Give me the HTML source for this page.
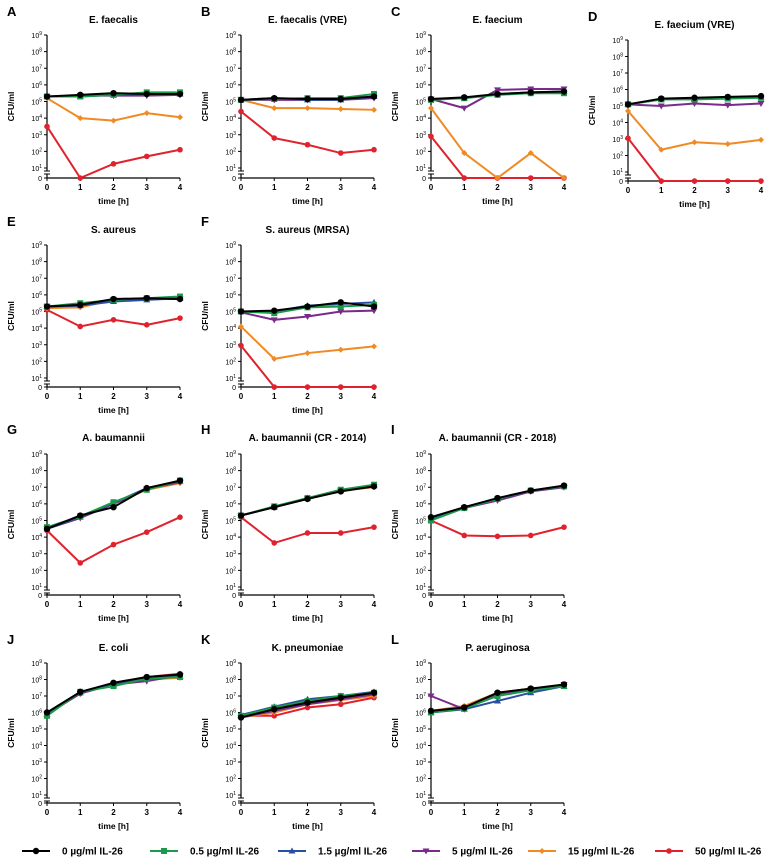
<!DOCTYPE html>
<html><head><meta charset="utf-8">
<style>
html,body{margin:0;padding:0;background:#fff;}
svg{display:block;font-family:"Liberation Sans",Arial,sans-serif;}
</style></head>
<body>
<svg id="fig" width="767" height="860" viewBox="0 0 767 860"></svg>
<script>
const timepoints = [0,1,2,3,4];
const seriesNames = ["0 µg/ml IL-26","0.5 µg/ml IL-26","1.5 µg/ml IL-26","5 µg/ml IL-26","15 µg/ml IL-26","50 µg/ml IL-26"];
const seriesColors = ["#000000","#1a9a4a","#2a4fa0","#7a2a8a","#f08a24","#e0222e"];
const panelLetters = ["A","B","C","D","E","F","G","H","I","J","K","L"];
const panelTitles = ["E. faecalis","E. faecalis (VRE)","E. faecium","E. faecium (VRE)","S. aureus","S. aureus (MRSA)","A. baumannii","A. baumannii (CR - 2014)","A. baumannii (CR - 2018)","E. coli","K. pneumoniae","P. aeruginosa"];
const yTickExps = [1,2,3,4,5,6,7,8,9];
// log10 CFU/ml per series (order: 0, 0.5, 1.5, 5, 15, 50 µg/ml); 0 means "0" baseline
const dataA = [[5.3,5.4,5.5,5.45,5.45],[5.3,5.3,5.4,5.55,5.55],[5.3,5.3,5.4,5.45,5.45],[5.3,5.35,5.35,5.35,5.4],[5.2,4.0,3.85,4.3,4.05],[3.5,0,1.25,1.7,2.1]];
const dataB = [[5.1,5.2,5.15,5.15,5.3],[5.1,5.15,5.2,5.2,5.45],[5.1,5.2,5.1,5.1,5.3],[5.1,5.1,5.1,5.1,5.2],[5.1,4.6,4.6,4.55,4.5],[4.4,2.8,2.4,1.9,2.1]];
const dataC = [[5.15,5.25,5.45,5.55,5.6],[5.1,5.2,5.4,5.5,5.5],[5.15,5.2,5.45,5.55,5.6],[5.15,4.6,5.7,5.75,5.75],[4.6,1.9,0,1.9,0],[2.9,0,0,0,0]];
const dataD = [[5.1,5.45,5.5,5.55,5.6],[5.1,5.4,5.4,5.45,5.5],[5.1,5.4,5.45,5.5,5.55],[5.1,5.0,5.15,5.05,5.15],[4.7,2.35,2.8,2.7,2.95],[3.05,0,0,0,0]];
const dataE = [[5.3,5.4,5.75,5.8,5.75],[5.3,5.5,5.7,5.8,5.9],[5.3,5.35,5.6,5.7,5.8],[5.3,5.35,5.7,5.75,5.75],[5.2,5.25,5.7,5.8,5.75],[5.1,4.1,4.5,4.2,4.6]];
const dataF = [[5.0,5.05,5.3,5.55,5.3],[5.0,4.9,5.25,5.3,5.4],[5.0,5.0,5.35,5.45,5.55],[4.95,4.5,4.7,5.0,5.05],[4.1,2.15,2.5,2.7,2.9],[2.95,0,0,0,0]];
const dataG = [[4.5,5.3,5.8,6.95,7.4],[4.6,5.25,6.1,6.85,7.4],[4.5,5.2,6.05,6.95,7.35],[4.5,5.15,6.0,6.9,7.3],[4.5,5.2,6.0,6.85,7.25],[4.4,2.45,3.55,4.3,5.2]];
const dataH = [[5.3,5.8,6.3,6.75,7.05],[5.3,5.85,6.35,6.85,7.15],[5.3,5.8,6.35,6.8,7.1],[5.3,5.8,6.3,6.8,7.05],[5.3,5.8,6.3,6.8,7.0],[5.2,3.65,4.25,4.25,4.6]];
const dataI = [[5.2,5.8,6.35,6.8,7.1],[5.0,5.75,6.3,6.8,7.05],[5.1,5.8,6.3,6.8,7.1],[5.1,5.75,6.2,6.75,7.0],[5.1,5.8,6.3,6.8,7.05],[5.0,4.1,4.05,4.1,4.6]];
const dataJ = [[6.0,7.25,7.8,8.15,8.3],[5.8,7.25,7.6,8.05,8.15],[5.9,7.2,7.7,8.05,8.2],[5.9,7.15,7.7,7.9,8.25],[5.9,7.2,7.7,8.0,8.1],[5.9,7.15,7.8,8.15,8.35]];
const dataK = [[5.7,6.2,6.6,6.9,7.2],[5.8,6.3,6.7,7.0,7.2],[5.85,6.35,6.8,7.0,7.25],[5.7,6.1,6.5,6.8,7.1],[5.7,6.0,6.5,6.75,7.0],[5.8,5.8,6.3,6.5,6.9]];
const dataL = [[6.1,6.3,7.2,7.45,7.7],[6.0,6.25,7.0,7.35,7.6],[6.0,6.2,6.7,7.2,7.6],[7.0,6.2,7.15,7.4,7.7],[6.1,6.4,7.2,7.45,7.65],[6.1,6.35,7.1,7.4,7.65]];
const panelData = [dataA,dataB,dataC,dataD,dataE,dataF,dataG,dataH,dataI,dataJ,dataK,dataL];

const NS="http://www.w3.org/2000/svg";
const svg=document.getElementById('fig');
function mk(tag,attrs,parent){const e=document.createElementNS(NS,tag);for(const k in attrs)e.setAttribute(k,attrs[k]);(parent||svg).appendChild(e);return e;}

const colX=[47,241,431,628];
const rows=[{t:20,y9:35,y1:168,y0:178},{t:230,y9:245,y1:378,y0:387},{t:438,y9:454,y1:587,y0:595},{t:648,y9:663,y1:795,y0:803}];
const layout=[[0,0],[1,0],[2,0],[3,0],[0,1],[1,1],[0,2],[1,2],[2,2],[0,3],[1,3],[2,3]];
const W=133;

function marker(g,i,x,y){
  const c=seriesColors[i];let m;
  if(i===0)m=mk('circle',{cx:x,cy:y,r:3.2,fill:c},g);
  else if(i===1)m=mk('rect',{x:x-3,y:y-3,width:6,height:6,fill:c},g);
  else if(i===2)m=mk('path',{d:`M${x},${y-3.5}L${x+3.5},${y+2.5}L${x-3.5},${y+2.5}Z`,fill:c},g);
  else if(i===3)m=mk('path',{d:`M${x},${y+3.5}L${x+3.5},${y-2.5}L${x-3.5},${y-2.5}Z`,fill:c},g);
  else if(i===4)m=mk('path',{d:`M${x},${y-3}L${x+3},${y}L${x},${y+3}L${x-3},${y}Z`,fill:c},g);
  else m=mk('circle',{cx:x,cy:y,r:2.8,fill:c},g);
  return m;
}

panelData.forEach((data,p)=>{
  const [ci,ri]=layout[p];
  let r=Object.assign({},rows[ri]);
  if(p===3){r={t:25,y9:40,y1:172,y0:181};}
  const x0=colX[ci];
  const dec=(r.y1-r.y9)/8;
  const xs=t=>x0+t*W/4;
  const ys=v=>v<=0?r.y0:r.y1-(v-1)*dec;
  const g=mk('g',{});
  
  
  const L=mk('text',{x:x0-40,y:r.t-4,'font-size':13,'font-weight':'bold'},g);L.textContent=panelLetters[p];
  
  const T=mk('text',{x:x0+W/2,y:r.t+3,'font-size':10,'font-weight':'bold','text-anchor':'middle'},g);T.textContent=panelTitles[p];
  
  // axes
  mk('line',{x1:x0,y1:r.y9,x2:x0,y2:r.y1+3,stroke:'#000','stroke-width':1.2},g);
  mk('line',{x1:x0,y1:r.y1+6,x2:x0,y2:r.y0,stroke:'#000','stroke-width':1.2},g);
  mk('line',{x1:x0-3,y1:r.y1+3,x2:x0+3,y2:r.y1+3,stroke:'#000','stroke-width':1},g);
  mk('line',{x1:x0-3,y1:r.y1+6,x2:x0+3,y2:r.y1+6,stroke:'#000','stroke-width':1},g);
  mk('line',{x1:x0,y1:r.y0,x2:x0+W,y2:r.y0,stroke:'#000','stroke-width':1.2},g);
  yTickExps.forEach(e=>{
    const y=ys(e);
    mk('line',{x1:x0-3,y1:y,x2:x0,y2:y,stroke:'#000','stroke-width':1},g);
    const tx=mk('text',{x:x0-5,y:y+3,'font-size':7,'text-anchor':'end'},g);
    tx.innerHTML='10<tspan dy="-3" font-size="5">'+e+'</tspan>';
  });
  mk('line',{x1:x0-3,y1:r.y0,x2:x0,y2:r.y0,stroke:'#000','stroke-width':1},g);
  const z=mk('text',{x:x0-5,y:r.y0+3,'font-size':7,'text-anchor':'end'},g);z.textContent='0';
  timepoints.forEach(t=>{
    const x=xs(t);
    mk('line',{x1:x,y1:r.y0,x2:x,y2:r.y0+3,stroke:'#000','stroke-width':1},g);
    const tx=mk('text',{x:x,y:r.y0+12,'font-size':8,'font-weight':'bold','text-anchor':'middle'},g);tx.textContent=t;
  });
  const xl=mk('text',{x:x0+W/2,y:r.y0+26,'font-size':8.5,'font-weight':'bold','text-anchor':'middle'},g);xl.textContent='time [h]';
  
  const ym=(r.y9+r.y0)/2;
  const yl=mk('text',{x:x0-33,y:ym,'font-size':8.5,'font-weight':'bold','text-anchor':'middle',transform:`rotate(-90 ${x0-33} ${ym})`},g);yl.textContent='CFU/ml';
  
  // series, red drawn first, black last
  for(let i=data.length-1;i>=0;i--){
    const vals=data[i];
    const pts=vals.map((v,k)=>xs(timepoints[k])+','+ys(v)).join(' ');
    const pl=mk('polyline',{points:pts,fill:'none',stroke:seriesColors[i],'stroke-width':2},g);
    
    vals.forEach((v,k)=>{
      const m=marker(g,i,xs(timepoints[k]),ys(v));
      
      
    });
  }
});

// legend
const legX=[22,150,278,412,528,655];
seriesNames.forEach((n,i)=>{
  const g=mk('g',{});
  
  
  const x=legX[i],y=851;
  mk('line',{x1:x,y1:y,x2:x+28,y2:y,stroke:seriesColors[i],'stroke-width':2},g);
  marker(g,i,x+14,y);
  const t=mk('text',{x:x+40,y:y+3.5,'font-size':10,'font-weight':'bold'},g);t.textContent=n;
});
</script>
</body></html>
